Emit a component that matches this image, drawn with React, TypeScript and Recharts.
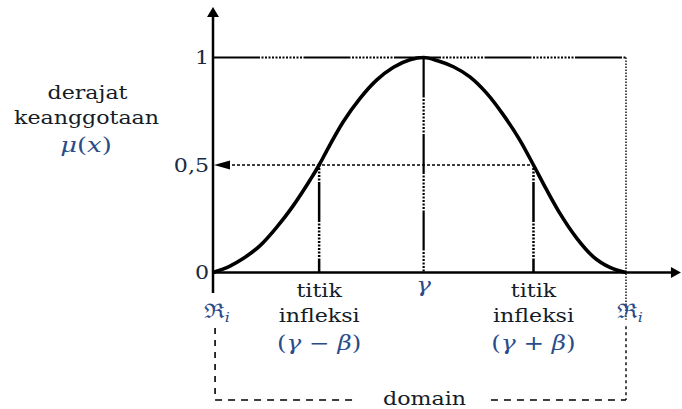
import React from 'react';
import {
  ComposedChart,
  Line,
  XAxis,
  YAxis,
  ReferenceLine,
  Customized,
} from 'recharts';

// Membership curve samples: position across the domain (ℜi = 0 … ℜi = 100) and μ(x)
const xPos = [
  0, 4.1, 7.3, 11.4, 15.4, 19.4, 23.5, 25.7, 27.5, 31.5, 35.6, 39.6, 43.7, 47.7, 51.0,
  54.4, 58.2, 62.2, 66.3, 70.3, 74.3, 77.6, 80.8, 84.0, 88.1, 92.1, 96.1, 100,
];
const membership = [
  0, 0.03, 0.065, 0.125, 0.21, 0.31, 0.43, 0.5, 0.565, 0.7, 0.81, 0.895, 0.955, 0.99, 1,
  0.985, 0.957, 0.91, 0.833, 0.733, 0.616, 0.5, 0.384, 0.275, 0.159, 0.073, 0.024, 0,
];

// Key points on the x axis: ℜi, γ − β, γ, γ + β, ℜi
const xTicks = [0, 25.7, 51, 77.6, 100];
const xTickLines = [
  ['ℜ_i'],
  ['titik', 'infleksi', '(γ − β)'],
  ['γ'],
  ['titik', 'infleksi', '(γ + β)'],
  ['ℜ_i'],
];

// Membership levels marked on the y axis
const yTicks = [0, 0.5, 1];
const yTickLabels = ['0', '0,5', '1'];

const data = xPos.map((x, i) => ({ x, mu: membership[i] }));

const FONT = "'DejaVu Serif', serif";
const TEXT = '#141c28';
const MATH = '#2b4c8a';
const STRETCH = 1.23;

// dash-dot pattern: a long solid run followed by a run of small dots
const dashDot = (solid: number, dots: number) => {
  const parts: number[] = [solid, 1.5];
  for (let i = 0; i < dots; i++) parts.push(2, 1.5);
  return parts.join(' ');
};
const TOP_PATTERN = dashDot(47, 12);
const STEM_PATTERN = dashDot(40, 10);

const isMathChar = (c: string) => 'γβxi'.includes(c);

// Renders a formula line with italic symbols
const MathText = ({ s }: { s: string }) => {
  if (s.includes('_')) {
    const [base, sub] = s.split('_');
    return (
      <>
        <tspan>{base}</tspan>
        <tspan fontStyle="italic" fontSize={13} dy={4}>
          {sub}
        </tspan>
      </>
    );
  }
  return (
    <>
      {s.split('').map((c, i) => (
        <tspan key={i} fontStyle={isMathChar(c) ? 'italic' : 'normal'}>
          {c}
        </tspan>
      ))}
    </>
  );
};

const Stretched = ({
  x,
  y,
  anchor = 'middle',
  fill = TEXT,
  size = 18,
  children,
}: any) => (
  <g transform={`translate(${x},${y}) scale(${STRETCH},1)`}>
    <text x={0} y={0} textAnchor={anchor} fill={fill} fontSize={size} fontFamily={FONT}>
      {children}
    </text>
  </g>
);

const XTick = (props: any) => {
  const { x, y, index } = props;
  const lines = xTickLines[index] || [];
  if (lines.length === 1 && lines[0].includes('_')) {
    return (
      <Stretched x={x + 4} y={y + 45} fill={MATH} size={20}>
        <MathText s={lines[0]} />
      </Stretched>
    );
  }
  if (lines.length === 1) {
    return (
      <Stretched x={x} y={y + 19} fill={MATH} size={20}>
        <MathText s={lines[0]} />
      </Stretched>
    );
  }
  const offsets = [24.5, 49.5, 77];
  return (
    <g>
      {lines.map((ln, i) =>
        i === 2 ? (
          <Stretched key={i} x={x} y={y + offsets[i]} fill={MATH} size={20}>
            <MathText s={ln} />
          </Stretched>
        ) : (
          <Stretched key={i} x={x} y={y + offsets[i]}>
            {ln}
          </Stretched>
        )
      )}
    </g>
  );
};

const YTick = (props: any) => {
  const { x, y, index } = props;
  return (
    <Stretched x={x - 4} y={y + 6.5} anchor="end" fill="#1b2a40">
      {yTickLabels[index]}
    </Stretched>
  );
};

// Vertical axis with arrowhead at the top
const VerticalArrow = (p: any) => {
  const { x1, y1, y2 } = p;
  const tip = Math.min(y1, y2);
  const base = Math.max(y1, y2);
  return (
    <g>
      <line x1={x1} x2={x1} y1={base} y2={tip + 9} stroke="#000" strokeWidth={2.5} />
      <polygon points={`${x1},${tip} ${x1 - 6},${tip + 10} ${x1 + 6},${tip + 10}`} fill="#000" />
    </g>
  );
};

// Horizontal axis with arrowhead on the right
const HorizontalArrow = (p: any) => {
  const { x1, x2, y1 } = p;
  const tip = Math.max(x1, x2);
  const start = Math.min(x1, x2);
  return (
    <g>
      <line x1={start} x2={tip - 8} y1={y1} y2={y1} stroke="#000" strokeWidth={2.5} />
      <polygon points={`${tip},${y1} ${tip - 10},${y1 - 5.5} ${tip - 10},${y1 + 5.5}`} fill="#000" />
    </g>
  );
};

// Dotted 0,5 guide pointing back to the y axis
const LeftArrowDotted = (p: any) => {
  const { x1, x2, y1 } = p;
  const tip = Math.min(x1, x2);
  const end = Math.max(x1, x2);
  return (
    <g>
      <line
        x1={tip + 14}
        x2={end}
        y1={y1}
        y2={y1}
        stroke="#000"
        strokeWidth={1.6}
        strokeDasharray="3 2"
      />
      <polygon points={`${tip + 1},${y1} ${tip + 17},${y1 - 4.5} ${tip + 17},${y1 + 4.5}`} fill="#000" />
    </g>
  );
};

const Annotations = () => (
  <g>
    <Stretched x={87.5} y={99}>derajat</Stretched>
    <Stretched x={86.5} y={124}>keanggotaan</Stretched>
    <Stretched x={86} y={152} fill={MATH} size={21}>
      <tspan fontStyle="italic">μ</tspan>
      <tspan>(</tspan>
      <tspan fontStyle="italic">x</tspan>
      <tspan>)</tspan>
    </Stretched>
    <Stretched x={424.5} y={405}>domain</Stretched>
  </g>
);

// Axis extents and domain bracket, in chart units
const AXIS_BOTTOM = -0.095;
const AXIS_TOP = 1.235;
const AXIS_RIGHT = 113.3;
const BRACKET_TOP_LEFT = -0.258;
const BRACKET_TOP_RIGHT = -0.25;
const BRACKET_BOTTOM = -0.593;
const BRACKET_LEFT = 0.5;
const GAP_LEFT = 34.7;
const GAP_RIGHT = 67.3;

export default function App() {
  return (
    <div style={{ position: 'absolute', left: 0, top: 0, width: 682, height: 409, background: '#fff' }}>
      <ComposedChart
        width={682}
        height={409}
        data={data}
        margin={{ top: 57.5, right: 56, bottom: 36.5, left: 173 }}
      >
        <XAxis
          type="number"
          dataKey="x"
          domain={[0, 100]}
          ticks={xTicks}
          interval={0}
          axisLine={false}
          tickLine={false}
          tickSize={0}
          tickMargin={0}
          height={100}
          tick={<XTick />}
        />
        <YAxis
          type="number"
          domain={[0, 1]}
          ticks={yTicks}
          interval={0}
          axisLine={false}
          tickLine={false}
          tickSize={0}
          tickMargin={0}
          width={40}
          tick={<YTick />}
        />

        {/* level 1 guide */}
        <ReferenceLine
          segment={[{ x: 0, y: 1 }, { x: 100, y: 1 }]}
          stroke="#000"
          strokeWidth={2}
          strokeDasharray={TOP_PATTERN}
          ifOverflow="visible"
        />
        {/* right boundary */}
        <ReferenceLine
          segment={[{ x: 100, y: 1 }, { x: 100, y: -0.22 }]}
          stroke="#000"
          strokeWidth={1.4}
          strokeDasharray="1.5 1.5"
          ifOverflow="visible"
        />
        {/* 0,5 guide */}
        <ReferenceLine
          segment={[{ x: 0, y: 0.5 }, { x: xTicks[3], y: 0.5 }]}
          ifOverflow="visible"
          shape={<LeftArrowDotted />}
        />
        {/* stems at the inflection points and the centre */}
        <ReferenceLine
          segment={[{ x: xTicks[1], y: 0 }, { x: xTicks[1], y: 0.5 }]}
          stroke="#000"
          strokeWidth={2.5}
          strokeDasharray={STEM_PATTERN}
          strokeDashoffset={26}
          ifOverflow="visible"
        />
        <ReferenceLine
          segment={[{ x: xTicks[3], y: 0 }, { x: xTicks[3], y: 0.5 }]}
          stroke="#000"
          strokeWidth={2.5}
          strokeDasharray={STEM_PATTERN}
          strokeDashoffset={26}
          ifOverflow="visible"
        />
        <ReferenceLine
          segment={[{ x: xTicks[2], y: 0 }, { x: xTicks[2], y: 1 }]}
          stroke="#000"
          strokeWidth={2.2}
          strokeDasharray={STEM_PATTERN}
          strokeDashoffset={54.5}
          ifOverflow="visible"
        />

        {/* domain bracket */}
        <ReferenceLine
          segment={[{ x: BRACKET_LEFT, y: BRACKET_TOP_LEFT }, { x: BRACKET_LEFT, y: BRACKET_BOTTOM }]}
          stroke="#000"
          strokeWidth={1.6}
          strokeDasharray="6 6"
          ifOverflow="visible"
        />
        <ReferenceLine
          segment={[{ x: BRACKET_LEFT, y: BRACKET_BOTTOM }, { x: GAP_LEFT, y: BRACKET_BOTTOM }]}
          stroke="#000"
          strokeWidth={1.6}
          strokeDasharray="7 6"
          ifOverflow="visible"
        />
        <ReferenceLine
          segment={[{ x: GAP_RIGHT, y: BRACKET_BOTTOM }, { x: 100, y: BRACKET_BOTTOM }]}
          stroke="#000"
          strokeWidth={1.6}
          strokeDasharray="7 6"
          ifOverflow="visible"
        />
        <ReferenceLine
          segment={[{ x: 100, y: BRACKET_TOP_RIGHT }, { x: 100, y: BRACKET_BOTTOM }]}
          stroke="#000"
          strokeWidth={1.4}
          strokeDasharray="3 3"
          ifOverflow="visible"
        />

        {/* axes */}
        <ReferenceLine
          segment={[{ x: 0, y: AXIS_BOTTOM }, { x: 0, y: AXIS_TOP }]}
          ifOverflow="visible"
          shape={<VerticalArrow />}
        />
        <ReferenceLine
          segment={[{ x: 0, y: 0 }, { x: AXIS_RIGHT, y: 0 }]}
          ifOverflow="visible"
          shape={<HorizontalArrow />}
        />

        <Line
          type="monotone"
          dataKey="mu"
          stroke="#000"
          strokeWidth={3.6}
          dot={false}
          activeDot={false}
          isAnimationActive={false}
        />

        <Customized component={Annotations} />
      </ComposedChart>
    </div>
  );
}
